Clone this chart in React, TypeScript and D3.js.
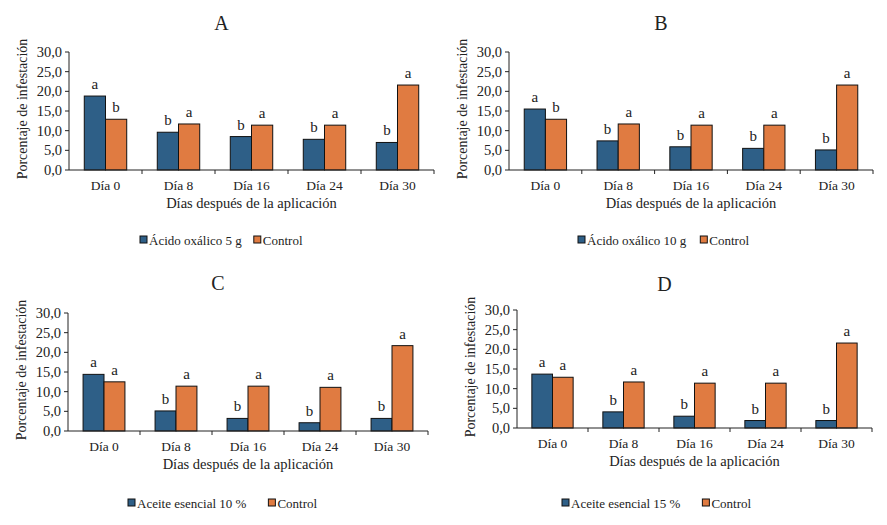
import React, { useEffect, useRef } from 'react';
import * as d3 from 'd3';

const categories = ['Día 0', 'Día 8', 'Día 16', 'Día 24', 'Día 30'];
const yTicks = [0, 5, 10, 15, 20, 25, 30];

const treatA = [18.8, 9.6, 8.5, 7.8, 7.0];
const controlA = [12.9, 11.7, 11.4, 11.4, 21.6];
const lettersTreatA = ['a', 'b', 'b', 'b', 'b'];
const lettersControlA = ['b', 'a', 'a', 'a', 'a'];

const treatB = [15.5, 7.4, 5.9, 5.5, 5.1];
const controlB = [12.9, 11.7, 11.4, 11.4, 21.6];
const lettersTreatB = ['a', 'b', 'b', 'b', 'b'];
const lettersControlB = ['b', 'a', 'a', 'a', 'a'];

const treatC = [14.4, 5.1, 3.2, 2.1, 3.2];
const controlC = [12.5, 11.4, 11.4, 11.1, 21.7];
const lettersTreatC = ['a', 'b', 'b', 'b', 'b'];
const lettersControlC = ['a', 'a', 'a', 'a', 'a'];

const treatD = [13.7, 4.1, 3.0, 1.9, 1.9];
const controlD = [12.9, 11.7, 11.4, 11.4, 21.6];
const lettersTreatD = ['a', 'b', 'b', 'b', 'b'];
const lettersControlD = ['a', 'a', 'a', 'a', 'a'];

const panels = [
  { title: 'A', treat: treatA, control: controlA, lt: lettersTreatA, lc: lettersControlA, name: 'Ácido oxálico 5 g',
    x0: 69, x1: 434, top: 52, bottom: 170, titleY: 23, legendX: 140, legendY: 240, legendGap: 12 },
  { title: 'B', treat: treatB, control: controlB, lt: lettersTreatB, lc: lettersControlB, name: 'Ácido oxálico 10 g',
    x0: 509, x1: 873, top: 52, bottom: 170, titleY: 23, legendX: 578, legendY: 240, legendGap: 14 },
  { title: 'C', treat: treatC, control: controlC, lt: lettersTreatC, lc: lettersControlC, name: 'Aceite esencial 10 %',
    x0: 68, x1: 428, top: 313, bottom: 431, titleY: 283, legendX: 128, legendY: 503, legendGap: 22 },
  { title: 'D', treat: treatD, control: controlD, lt: lettersTreatD, lc: lettersControlD, name: 'Aceite esencial 15 %',
    x0: 517, x1: 872, top: 310, bottom: 428, titleY: 284, legendX: 562, legendY: 503, legendGap: 22 },
];

const blue = '#2e5f87';
const orange = '#e07b41';
const font = 'Liberation Serif, Times New Roman, DejaVu Serif, serif';

const App = () => {
  const ref = useRef(null);

  useEffect(() => {
    const svg = d3.select(ref.current);
    svg.selectAll('*').remove();

    panels.forEach((p) => {
      const g = svg.append('g');
      const x = d3.scaleBand().domain(categories).range([p.x0, p.x1]).paddingInner(0).paddingOuter(0);
      const y = d3.scaleLinear().domain([0, 30]).range([p.bottom, p.top]);
      const sub = d3.scaleBand().domain(['t', 'c']).range([0, x.bandwidth()]).paddingOuter(0.72).paddingInner(0);

      const txt = (tx: number, ty: number, s: string, size: number, anchor = 'middle') =>
        g.append('text').attr('x', tx).attr('y', ty).attr('text-anchor', anchor)
          .attr('font-family', font).attr('font-size', size).attr('fill', '#222').text(s);

      // title
      txt((p.x0 + p.x1) / 2 - 30, p.titleY, p.title, 20).attr('dy', '0.35em');

      // y axis
      g.append('line').attr('x1', p.x0).attr('x2', p.x0).attr('y1', p.top).attr('y2', p.bottom)
        .attr('stroke', '#222').attr('stroke-width', 1);
      yTicks.forEach((t) => {
        g.append('line').attr('x1', p.x0 - 4).attr('x2', p.x0).attr('y1', y(t)).attr('y2', y(t))
          .attr('stroke', '#222');
        txt(p.x0 - 7, y(t), d3.format('.1f')(t).replace('.', ','), 14.5, 'end').attr('dy', '0.35em');
      });
      txt(0, 0, 'Porcentaje de infestación', 14)
        .attr('transform', `translate(${p.x0 - 47},${(p.top + p.bottom) / 2 - 2}) rotate(-90)`)
        .attr('dy', '0.35em');

      // bars
      categories.forEach((c, i) => {
        const bx = x(c);
        const tx = bx + sub('t');
        const cx = bx + sub('c');
        const w = sub.bandwidth();
        g.append('rect').attr('x', tx).attr('y', y(p.treat[i])).attr('width', w)
          .attr('height', p.bottom - y(p.treat[i])).attr('fill', blue).attr('stroke', '#111').attr('stroke-width', 1);
        g.append('rect').attr('x', cx).attr('y', y(p.control[i])).attr('width', w)
          .attr('height', p.bottom - y(p.control[i])).attr('fill', orange).attr('stroke', '#111').attr('stroke-width', 1);
        txt(tx + w / 2, y(p.treat[i]) - 7, p.lt[i], 15);
        txt(cx + w / 2, y(p.control[i]) - 7, p.lc[i], 15);
        txt(bx + x.bandwidth() / 2, p.bottom + 15, c, 13.5).attr('dy', '0.35em');
      });

      // x axis
      g.append('line').attr('x1', p.x0).attr('x2', p.x1).attr('y1', p.bottom).attr('y2', p.bottom)
        .attr('stroke', '#222');
      categories.forEach((c) => {
        const xe = x(c) + x.bandwidth();
        g.append('line').attr('x1', xe).attr('x2', xe).attr('y1', p.bottom).attr('y2', p.bottom + 4)
          .attr('stroke', '#222');
      });
      txt((p.x0 + p.x1) / 2, p.bottom + 33, 'Días después de la aplicación', 14.5).attr('dy', '0.35em');

      // legend
      const lg = g.append('g').attr('transform', `translate(${p.legendX},${p.legendY})`);
      lg.append('rect').attr('x', 0).attr('y', -4).attr('width', 7).attr('height', 7)
        .attr('fill', blue).attr('stroke', '#111');
      const t1 = lg.append('text').attr('x', 9).attr('y', 0).attr('dy', '0.35em')
        .attr('font-family', font).attr('font-size', 13).attr('fill', '#222').text(p.name);
      const w1 = (t1.node() as SVGTextElement).getComputedTextLength();
      const cx0 = 9 + w1 + p.legendGap;
      lg.append('rect').attr('x', cx0).attr('y', -4).attr('width', 7).attr('height', 7)
        .attr('fill', orange).attr('stroke', '#111');
      lg.append('text').attr('x', cx0 + 9).attr('y', 0).attr('dy', '0.35em')
        .attr('font-family', font).attr('font-size', 13).attr('fill', '#222').text('Control');
    });
  }, []);

  return (
    <svg ref={ref} width={887} height={525}
      style={{ position: 'absolute', left: 0, top: 0, background: '#fff' }} />
  );
};

export default App;
